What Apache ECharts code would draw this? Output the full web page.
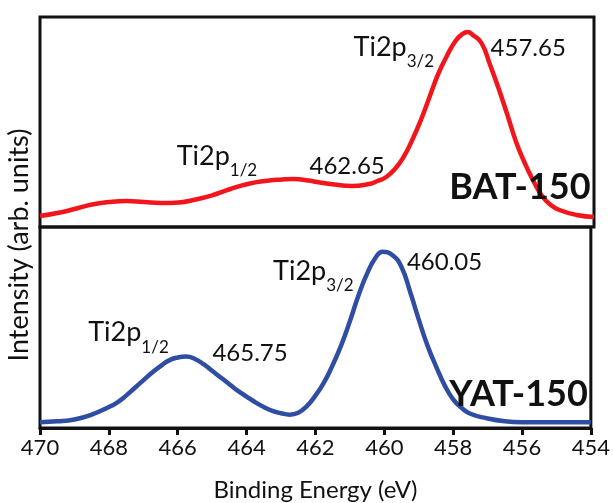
<!DOCTYPE html>
<html>
<head>
<meta charset="utf-8">
<script src="https://cdn.jsdelivr.net/npm/echarts@6/dist/echarts.min.js"></script>
<style>
  html, body { margin: 0; padding: 0; background: #fff; }
  #main { width: 613px; height: 503px; }
</style>
</head>
<body>
<div id="main"></div>
<script>
// Ti 2p XPS spectra of the two samples (binding energy in eV, intensity in arb. units)
const energyBAT = [470, 469.5, 469, 468.5, 468, 467.5, 467, 466.5, 466, 465.5, 465, 464.5, 464, 463.5, 463, 462.65, 462.25, 462, 461.5, 461, 460.5, 460.25, 460, 459.75, 459.5, 459.25, 459, 458.75, 458.5, 458.25, 458, 457.8, 457.65, 457.5, 457.25, 457, 456.75, 456.5, 456.25, 456, 455.75, 455.5, 455.25, 455, 454.5, 454];
const intensityBAT = [11, 14, 18, 22.5, 25, 26, 25, 24, 24.5, 27.5, 32, 38, 43, 46, 47.5, 48, 46.5, 45, 42.5, 41, 43, 46, 50, 58, 70, 87, 107, 130, 153, 171, 186, 193, 195, 192, 184, 162, 138, 112, 85, 64, 46, 31, 22, 17, 12, 10];

const energyYAT = [470, 469.5, 469, 468.5, 468, 467.75, 467.5, 467.25, 467, 466.75, 466.5, 466.25, 466, 465.75, 465.5, 465.25, 465, 464.75, 464.5, 464.25, 464, 463.75, 463.5, 463.25, 463, 462.75, 462.5, 462.25, 462, 461.75, 461.5, 461.25, 461, 460.75, 460.5, 460.25, 460.05, 459.75, 459.5, 459.25, 459, 458.75, 458.5, 458.25, 458, 457.75, 457.5, 457, 456.5, 456, 455, 454];
const intensityYAT = [6, 7, 9, 14, 22, 27, 34, 42, 50, 58, 65, 71, 74, 75, 72.5, 67, 60, 53, 46, 39, 33, 27, 22, 18, 15.5, 14, 16, 23, 34, 48, 66, 87, 112, 139, 162, 179, 185, 181, 169, 143, 114, 87, 65, 45, 30, 21, 15, 10, 7, 6, 6, 6];

// Peak positions (Ti2p3/2, Ti2p1/2) and sample names
const peaksBAT = [457.65, 462.65];
const peaksYAT = [460.05, 465.75];
const sampleNames = ['BAT-150', 'YAT-150'];
const orbitals = ['3/2', '1/2'];

const FONT = 'Lato, "Open Sans", sans-serif';
const INK = '#111';

function pairs(xs, ys) { return xs.map((x, i) => [x, ys[i]]); }

const rich = {
  m: { fontSize: 27, fontFamily: FONT, color: INK, lineHeight: 30 },
  s: { fontSize: 17, fontFamily: FONT, color: INK, lineHeight: 17, padding: [30, 0, 0, 0] },
  v: { fontSize: 24, fontFamily: FONT, color: INK },
  n: { fontSize: 36, fontFamily: FONT, color: INK, fontWeight: 'bold' }
};

function note(coord, text) {
  return {
    coord: coord,
    symbol: 'circle',
    symbolSize: 0,
    label: { show: true, position: 'inside', formatter: text, rich: rich }
  };
}

function xAxisBase(grid) {
  return {
    gridIndex: grid, type: 'value', min: 454, max: 470, interval: 2, inverse: true,
    splitLine: { show: false }
  };
}

const option = {
  backgroundColor: '#fff',
  animation: false,
  grid: [
    { left: 40, right: 19, top: 17, height: 210, show: true, borderColor: INK, borderWidth: 3, backgroundColor: 'transparent' },
    { left: 40, right: 19, top: 227, height: 211, show: true, borderColor: INK, borderWidth: 3, backgroundColor: 'transparent' }
  ],
  xAxis: [
    Object.assign(xAxisBase(0), {
      axisLine: { show: false }, axisTick: { show: false }, axisLabel: { show: false }
    }),
    Object.assign(xAxisBase(1), {
      axisLine: { show: true, lineStyle: { color: INK, width: 3 } },
      axisTick: { show: true, length: 7, lineStyle: { color: INK, width: 3 } },
      axisLabel: { fontSize: 22, color: INK, fontFamily: FONT, margin: 9 },
      name: 'Binding Energy (eV)', nameLocation: 'middle', nameGap: 50,
      nameTextStyle: { fontSize: 24, color: INK, fontFamily: FONT }
    })
  ],
  yAxis: [
    { gridIndex: 0, type: 'value', min: 0, max: 210, show: false },
    { gridIndex: 1, type: 'value', min: 0, max: 211, show: false }
  ],
  graphic: [{
    type: 'text', x: 19, y: 245, rotation: Math.PI / 2,
    style: { text: 'Intensity (arb. units)', fontSize: 27, fontFamily: FONT, fill: INK, align: 'center', verticalAlign: 'middle' }
  }],
  series: [
    {
      name: sampleNames[0], type: 'line', xAxisIndex: 0, yAxisIndex: 0,
      data: pairs(energyBAT, intensityBAT), smooth: 0.5, showSymbol: false,
      lineStyle: { color: '#f2161c', width: 4.5 }, itemStyle: { color: '#f2161c' },
      markPoint: {
        data: [
          note([459.78, 180], '{m|Ti2p}{s|' + orbitals[0] + '}'),
          note([455.9, 179], '{v|' + peaksBAT[0].toFixed(2) + '}'),
          note([464.89, 71], '{m|Ti2p}{s|' + orbitals[1] + '}'),
          note([461.13, 61], '{v|' + peaksBAT[1].toFixed(2) + '}'),
          note([456.14, 40], '{n|' + sampleNames[0] + '}')
        ]
      }
    },
    {
      name: sampleNames[1], type: 'line', xAxisIndex: 1, yAxisIndex: 1,
      data: pairs(energyYAT, intensityYAT), smooth: 0.5, showSymbol: false,
      lineStyle: { color: '#2f4ea3', width: 4.5 }, itemStyle: { color: '#2f4ea3' },
      markPoint: {
        data: [
          note([462.06, 165], '{m|Ti2p}{s|' + orbitals[0] + '}'),
          note([458.25, 174], '{v|' + peaksYAT[0].toFixed(2) + '}'),
          note([467.43, 100], '{m|Ti2p}{s|' + orbitals[1] + '}'),
          note([463.9, 78], '{v|' + peaksYAT[1].toFixed(2) + '}'),
          note([456.1, 35], '{n|' + sampleNames[1] + '}')
        ]
      }
    }
  ]
};

const chart = echarts.init(document.getElementById('main'), null, { renderer: 'canvas' });
chart.setOption(option);
</script>
</body>
</html>
